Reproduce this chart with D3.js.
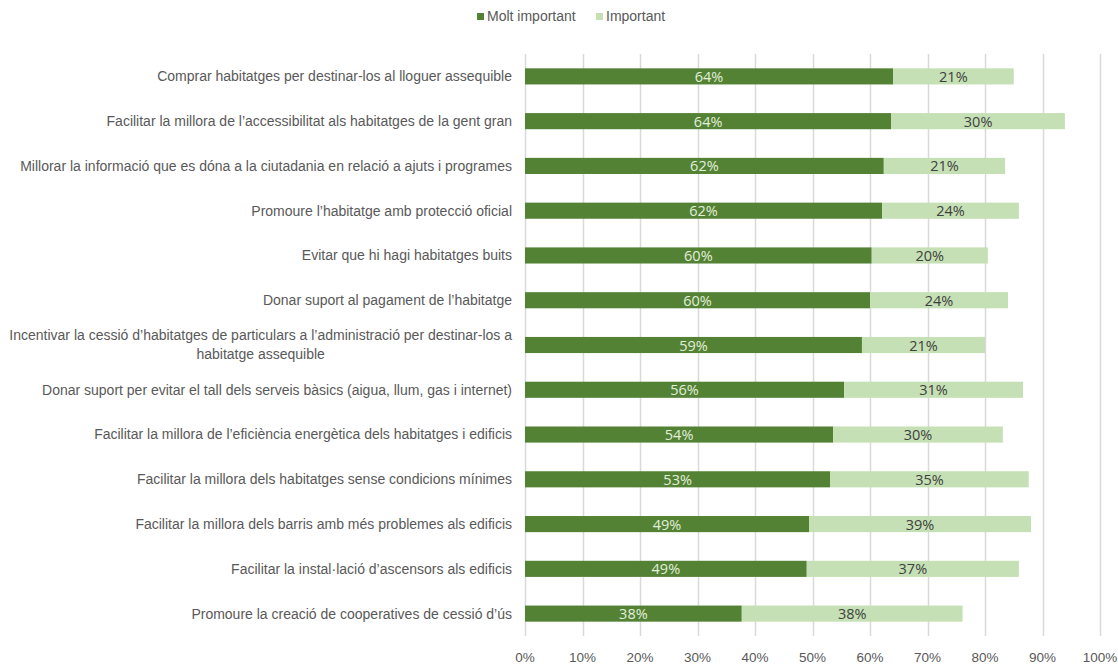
<!DOCTYPE html>
<html>
<head>
<meta charset="utf-8">
<script src="https://cdn.jsdelivr.net/npm/d3@7"></script>
<style>
  body { margin: 0; background: #fff; }
  svg text { font-family: "Liberation Sans", Arial, sans-serif; }
</style>
</head>
<body>
<div id="chart"></div>
<script>
// Categories, top to bottom
var categories = [
	"Comprar habitatges per destinar-los al lloguer assequible",
	"Facilitar la millora de l’accessibilitat als habitatges de la gent gran",
	"Millorar la informació que es dóna a la ciutadania en relació a ajuts i programes",
	"Promoure l’habitatge amb protecció oficial",
	"Evitar que hi hagi habitatges buits",
	"Donar suport al pagament de l’habitatge",
	"Incentivar la cessió d’habitatges de particulars a l’administració per destinar-los a|habitatge assequible",
	"Donar suport per evitar el tall dels serveis bàsics (aigua, llum, gas i internet)",
	"Facilitar la millora de l’eficiència energètica dels habitatges i edificis",
	"Facilitar la millora dels habitatges sense condicions mínimes",
	"Facilitar la millora dels barris amb més problemes als edificis",
	"Facilitar la instal·lació d’ascensors als edificis",
	"Promoure la creació de cooperatives de cessió d’ús"
];
var moltImportant = [64.0, 63.7, 62.4, 62.1, 60.3, 60.0, 58.6, 55.5, 53.6, 53.1, 49.4, 49.0, 37.7];
var important = [21.0, 30.2, 21.1, 23.8, 20.2, 24.0, 21.4, 31.1, 29.5, 34.5, 38.6, 36.9, 38.4];
var seriesNames = ["Molt important", "Important"];
var seriesColors = ["#548235", "#C5E0B4"];
var labelColors = ["#E2EFDA", "#404040"];
var xTicks = [0, 10, 20, 30, 40, 50, 60, 70, 80, 90, 100];

var width = 1118, height = 666;
var svg = d3.select("#chart").append("svg")
	.attr("width", width)
	.attr("height", height);

var x = d3.scaleLinear().domain([0, 100]).range([525, 1100]);
var y = d3.scaleBand()
	.domain(categories)
	.range([54, 636])
	.paddingInner(0.64)
	.paddingOuter(0.32);

// Gridlines
svg.append("g").selectAll("line")
	.data(xTicks)
	.enter().append("line")
	.attr("x1", function(d) { return Math.round(x(d)) + 0.5; })
	.attr("x2", function(d) { return Math.round(x(d)) + 0.5; })
	.attr("y1", 54)
	.attr("y2", 636)
	.attr("stroke", "#D9D9D9")
	.attr("stroke-width", 1.5);

// Stack the two series
var keys = ["molt", "imp"];
var rows = categories.map(function(c, i) {
	return { cat: c, molt: moltImportant[i], imp: important[i] };
});
var layers = d3.stack().keys(keys)(rows);

var layer = svg.append("g").selectAll("g")
	.data(layers)
	.enter().append("g");

function segs(d, li) {
	return d.map(function(p) { return { p: p, li: li }; });
}

layer.selectAll("rect")
	.data(segs)
	.enter().append("rect")
	.attr("x", function(d) { return x(d.p[0]); })
	.attr("width", function(d) { return x(d.p[1]) - x(d.p[0]); })
	.attr("y", function(d) { return y(d.p.data.cat); })
	.attr("height", y.bandwidth())
	.attr("fill", function(d) { return seriesColors[d.li]; });

layer.selectAll("text")
	.data(segs)
	.enter().append("text")
	.attr("x", function(d) { return x((d.p[0] + d.p[1]) / 2); })
	.attr("y", function(d) { return y(d.p.data.cat) + y.bandwidth() / 2; })
	.attr("dy", "0.38em")
	.attr("text-anchor", "middle")
	.style("font-family", "'Open Sans', sans-serif")
	.style("font-size", "14.5px")
	.attr("fill", function(d) { return labelColors[d.li]; })
	.text(function(d) { return Math.round(d.p.data[keys[d.li]]) + "%"; });

// Category labels (| splits lines)
var catLabels = svg.append("g").selectAll("text")
	.data(categories)
	.enter().append("text")
	.attr("y", function(d) { return y(d) + y.bandwidth() / 2; })
	.attr("fill", "#595959")
	.style("font-size", "14px");

catLabels.each(function(d) {
	var parts = d.split("|");
	var t = d3.select(this);
	if (parts.length == 1) {
		t.append("tspan").attr("x", 512).attr("dy", "0.35em")
			.attr("text-anchor", "end").text(d);
	} else {
		var first = t.append("tspan").attr("x", 512).attr("dy", "-0.35em")
			.attr("text-anchor", "end").text(parts[0]);
		// second line centred under the first
		var w = first.node().getComputedTextLength();
		t.append("tspan").attr("x", 512 - w / 2).attr("dy", "1.35em")
			.attr("text-anchor", "middle").text(parts[1]);
	}
});

// X axis tick labels
svg.append("g").selectAll("text")
	.data(xTicks)
	.enter().append("text")
	.attr("x", function(d) { return x(d); })
	.attr("y", 662)
	.attr("text-anchor", "middle")
	.attr("fill", "#595959")
	.style("font-size", "13.5px")
	.text(function(d) { return d + "%"; });

// Legend
var legendX = [477, 596];
seriesNames.forEach(function(name, i) {
	var g = svg.append("g").attr("transform", "translate(" + legendX[i] + ",16.5)");
	g.append("rect").attr("x", 0).attr("y", -3.5).attr("width", 7).attr("height", 7)
		.attr("fill", seriesColors[i]);
	g.append("text").attr("x", 10).attr("y", 0).attr("dy", "0.35em")
		.attr("fill", "#595959").style("font-size", "14px").text(name);
});
</script>
</body>
</html>
